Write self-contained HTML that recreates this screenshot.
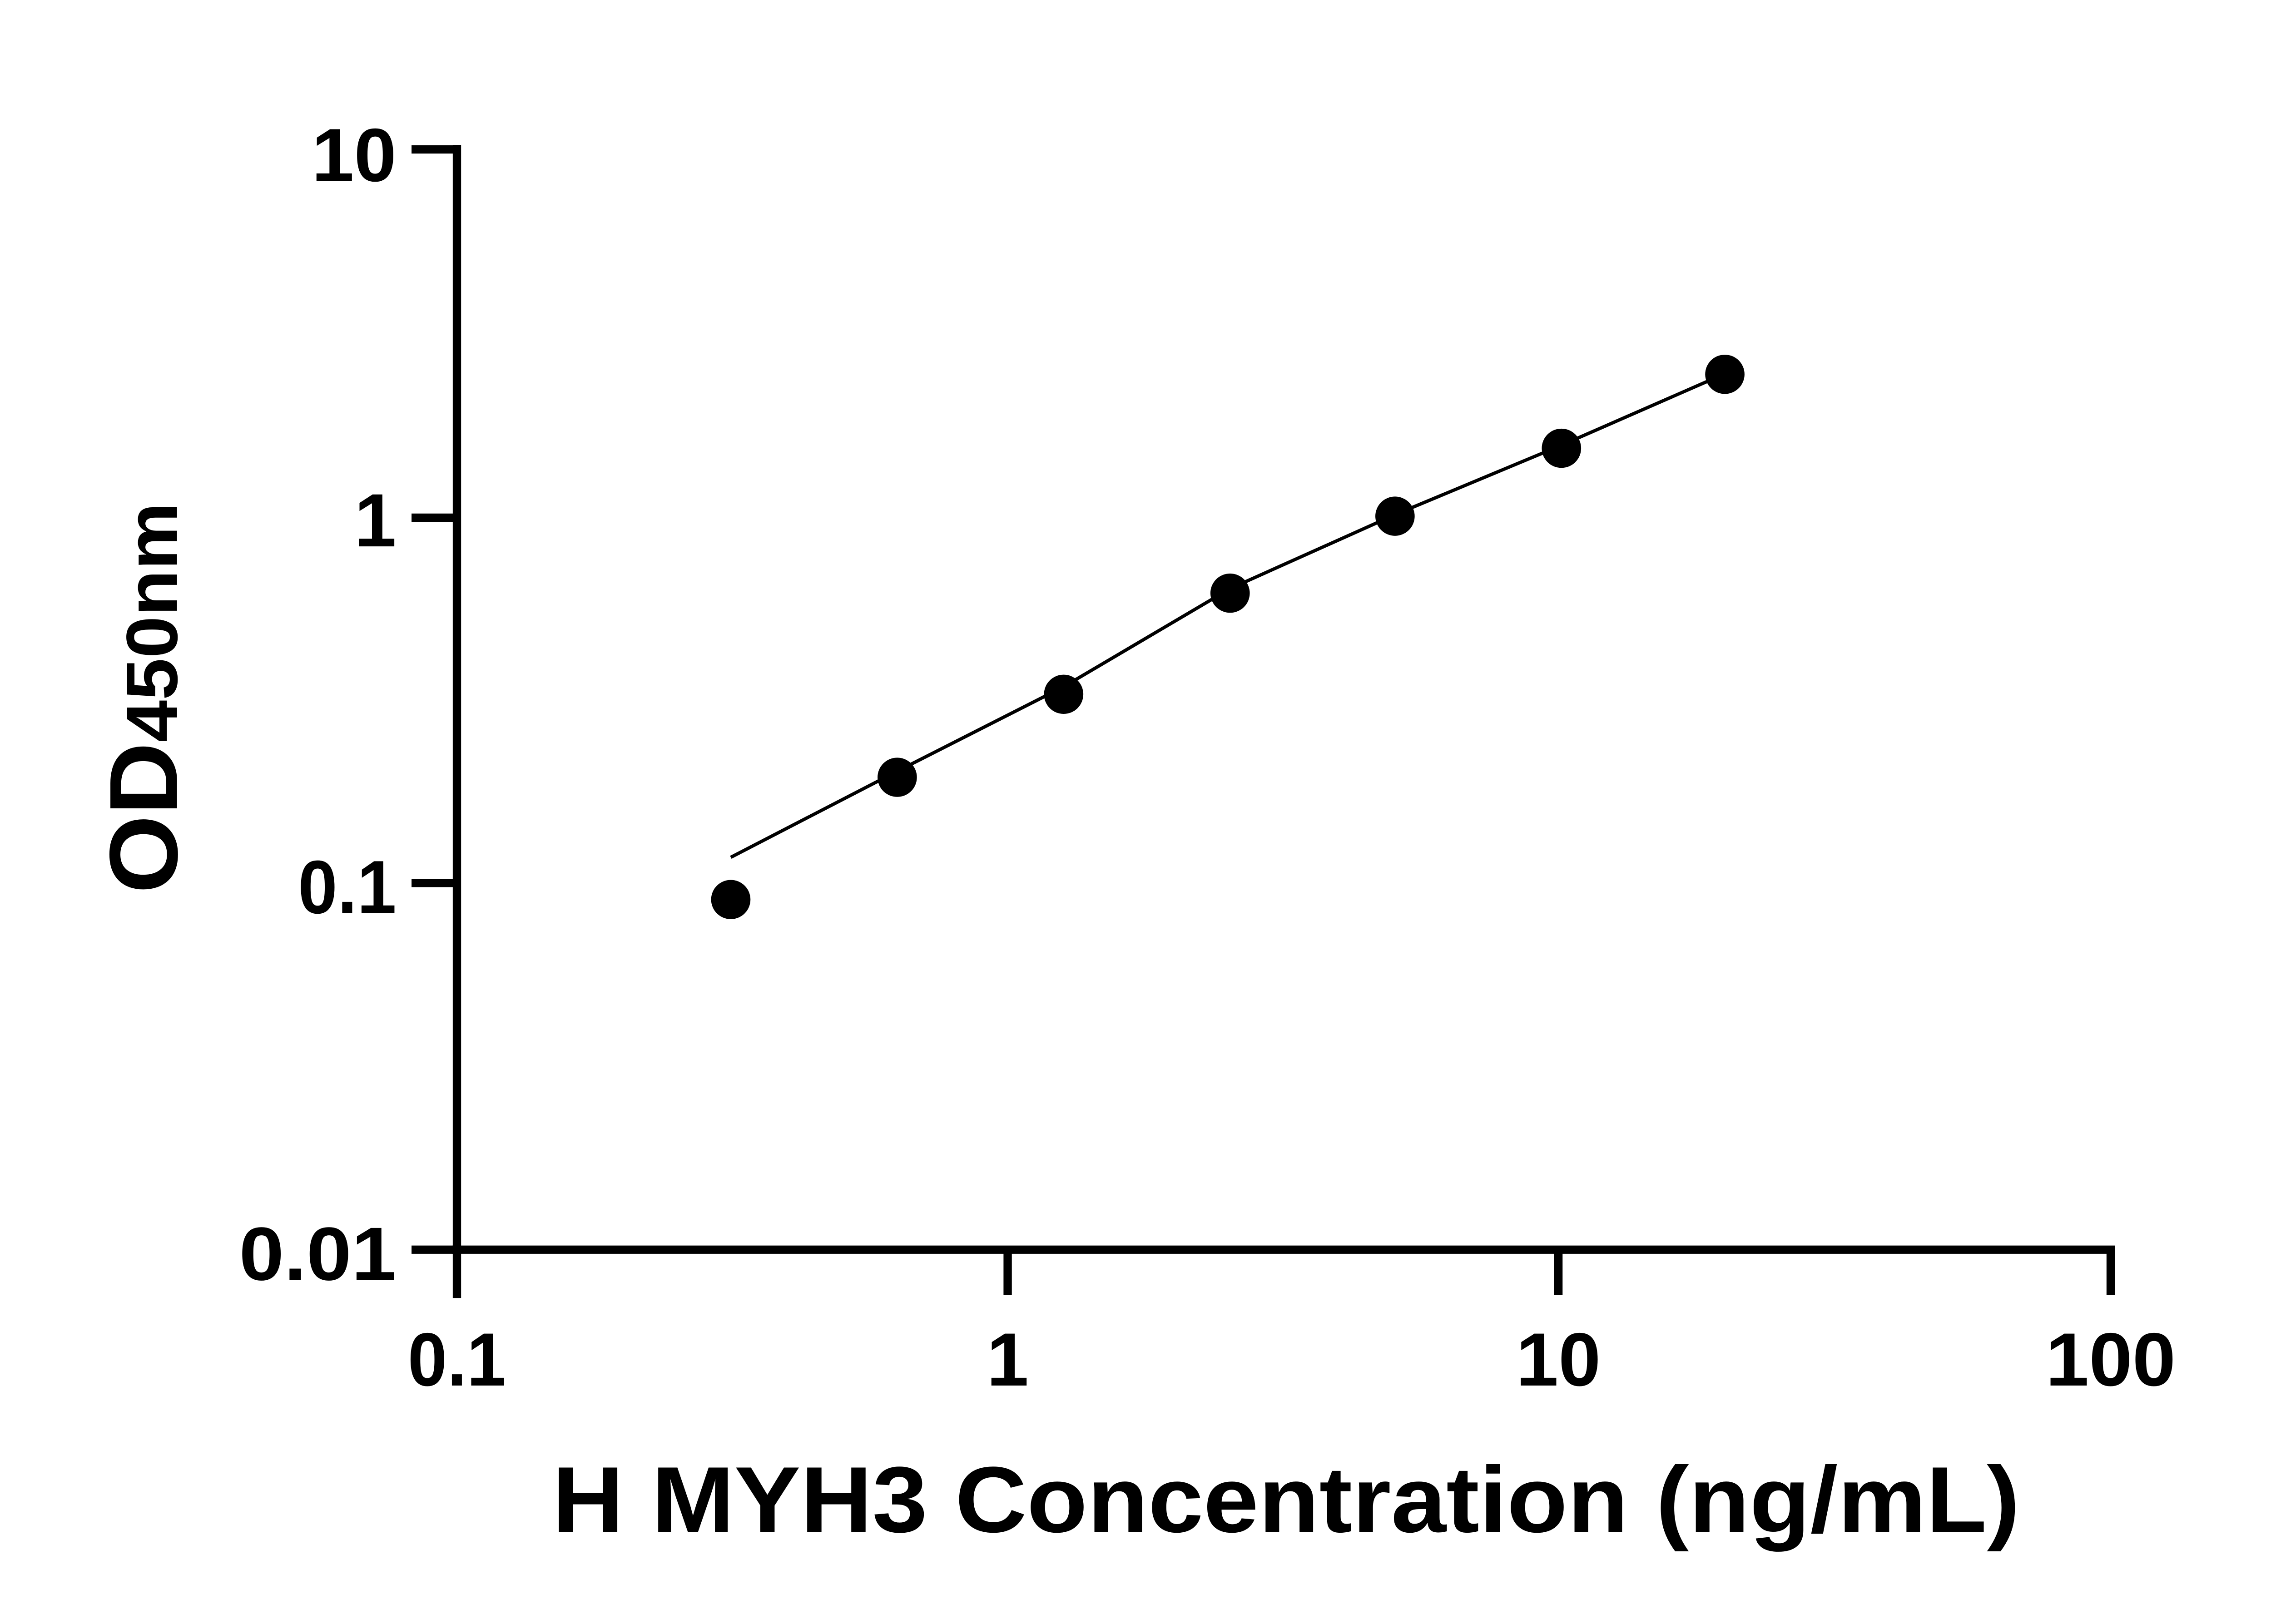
<!DOCTYPE html>
<html><head><style>html,body{margin:0;padding:0;background:#fff}svg{display:block}</style></head>
<body>
<svg width="5170" height="3576" viewBox="0 0 1552 1076" preserveAspectRatio="none" xmlns="http://www.w3.org/2000/svg" font-family="Liberation Sans, Arial, sans-serif" font-weight="bold">
<g stroke="#000" stroke-width="5.5" fill="none">
<line x1="302" y1="96" x2="302" y2="860"/>
<line x1="299" y1="828" x2="1398" y2="828"/>
<line x1="272" y1="99" x2="302" y2="99"/>
<line x1="272" y1="343" x2="302" y2="343"/>
<line x1="272" y1="585" x2="302" y2="585"/>
<line x1="272" y1="828" x2="302" y2="828"/>
<line x1="666" y1="828" x2="666" y2="858"/>
<line x1="1030" y1="828" x2="1030" y2="858"/>
<line x1="1395" y1="828" x2="1395" y2="858"/>
</g>
<path d="M483,568 L593,511 L703,455 L813,390 L922,341 L1032,295 L1130,252" stroke="#000" stroke-width="2.2" fill="none"/>
<g fill="#000">
<circle cx="483" cy="596" r="13"/>
<circle cx="593" cy="515" r="13"/>
<circle cx="703" cy="460" r="13"/>
<circle cx="813" cy="393" r="13"/>
<circle cx="922" cy="342" r="13"/>
<circle cx="1032" cy="297" r="13"/>
<circle cx="1140" cy="248" r="13"/>
</g>
<g font-size="50" text-anchor="end" fill="#000">
<text x="262" y="120" textLength="56" lengthAdjust="spacingAndGlyphs">10</text>
<text x="262" y="362">1</text>
<text x="262" y="605" textLength="65" lengthAdjust="spacingAndGlyphs">0.1</text>
<text x="262" y="848" textLength="104" lengthAdjust="spacingAndGlyphs">0.01</text>
</g>
<g font-size="50" text-anchor="middle" fill="#000">
<text x="302" y="918" textLength="65" lengthAdjust="spacingAndGlyphs">0.1</text>
<text x="666" y="918">1</text>
<text x="1030" y="918" textLength="56" lengthAdjust="spacingAndGlyphs">10</text>
<text x="1395" y="918" textLength="86" lengthAdjust="spacingAndGlyphs">100</text>
</g>
<text x="365" y="1015" font-size="62" textLength="970" lengthAdjust="spacingAndGlyphs" fill="#000">H MYH3 Concentration (ng/mL)</text>
<text transform="translate(117,592) rotate(-90)" fill="#000" textLength="259" lengthAdjust="spacingAndGlyphs"><tspan font-size="64">OD</tspan><tspan font-size="48">450nm</tspan></text>
</svg>
</body></html>
